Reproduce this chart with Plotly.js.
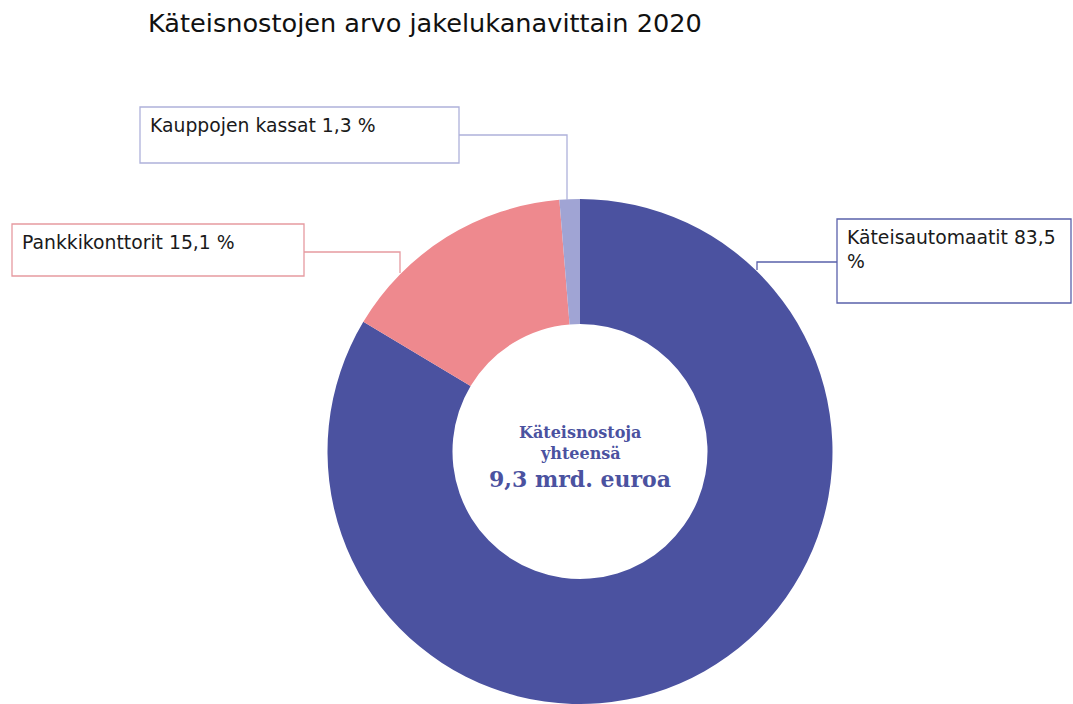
<!DOCTYPE html>
<html>
<head>
<meta charset="utf-8">
<script src="https://cdn.plot.ly/plotly-3.0.1.min.js"></script>
<style>html,body{margin:0;padding:0;background:#fff;overflow:hidden}#chart{width:1073px;height:704px}</style>
</head>
<body>
<div id="chart"></div>
<script>
// Data
const channels = ["Käteisautomaatit", "Pankkikonttorit", "Kauppojen kassat"];
const shares = [83.5, 15.1, 1.3];
const sliceColors = ["#4b52a0", "#ee898e", "#a0a4d4"];
const boxColors = ["#5a61ab", "#e69aa0", "#aeb1da"];
const centerLines = ["Käteisnostoja", "yhteensä", "9,3 mrd. euroa"];
const titleText = "Käteisnostojen arvo jakelukanavittain 2020";

const W = 1073, H = 704;
const px = x => x / W;
const py = y => 1 - y / H;
const fmt = v => v.toFixed(1).replace('.', ',') + ' %';

// label box geometry (layout only)
const boxes = [
  {x0: 837, x1: 1071, y0: 219, y1: 303, text: channels[0] + ' ' + fmt(shares[0]).replace(' %', '') + '<br>%',
   conn: [[837, 262], [757, 262], [757, 270]]},
  {x0: 12, x1: 304, y0: 224, y1: 276, text: channels[1] + ' ' + fmt(shares[1]),
   conn: [[304, 252], [400, 252], [400, 273]]},
  {x0: 140, x1: 459, y0: 107, y1: 163, text: channels[2] + ' ' + fmt(shares[2]),
   conn: [[459, 135], [567, 135], [567, 200]]}
];

const shapes = [];
const annotations = [];
boxes.forEach((b, i) => {
  shapes.push({type: 'path', xref: 'paper', yref: 'paper',
    path: b.conn.map((p, k) => (k ? 'L' : 'M') + px(p[0]) + ',' + py(p[1])).join(' '),
    line: {color: boxColors[i], width: 1.3}});
  shapes.push({type: 'rect', xref: 'paper', yref: 'paper',
    x0: px(b.x0), x1: px(b.x1), y0: py(b.y0), y1: py(b.y1),
    line: {color: boxColors[i], width: 1.3}, fillcolor: 'rgba(255,255,255,0)'});
  annotations.push({xref: 'paper', yref: 'paper', x: px(b.x0 + 8), y: py(b.y0 + 6),
    xanchor: 'left', yanchor: 'top', align: 'left', showarrow: false,
    text: b.text, font: {family: 'DejaVu Sans, Arial, sans-serif', size: 18.8, color: '#1a1a1a'}});
});

const cx = 580;
const centerY = [432, 453, 479];
const centerSize = [16, 16, 22];
centerLines.forEach((t, i) => {
  annotations.push({xref: 'paper', yref: 'paper', x: px(cx), y: py(centerY[i]),
    xanchor: 'center', yanchor: 'middle', showarrow: false, text: '<b>' + t + '</b>',
    font: {family: 'DejaVu Serif, Georgia, serif', size: centerSize[i], color: '#4b52a0'}});
});

const trace = {
  type: 'pie',
  labels: channels,
  values: shares,
  hole: 0.505,
  sort: false,
  direction: 'clockwise',
  rotation: 0,
  textinfo: 'none',
  hoverinfo: 'label+value',
  marker: {colors: sliceColors, line: {width: 0}},
  domain: {x: [px(326), px(834)], y: [0, py(199)]},
  showlegend: false
};

const layout = {
  width: W, height: H,
  margin: {l: 0, r: 0, t: 0, b: 0},
  paper_bgcolor: '#fff',
  title: {text: titleText, x: px(148), xanchor: 'left', y: py(23), yanchor: 'middle',
    font: {family: 'DejaVu Sans, Arial, sans-serif', size: 25.6, color: '#111'}},
  shapes: shapes,
  annotations: annotations,
  showlegend: false
};

Plotly.newPlot('chart', [trace], layout, {displayModeBar: false, staticPlot: true});
</script>
</body>
</html>
